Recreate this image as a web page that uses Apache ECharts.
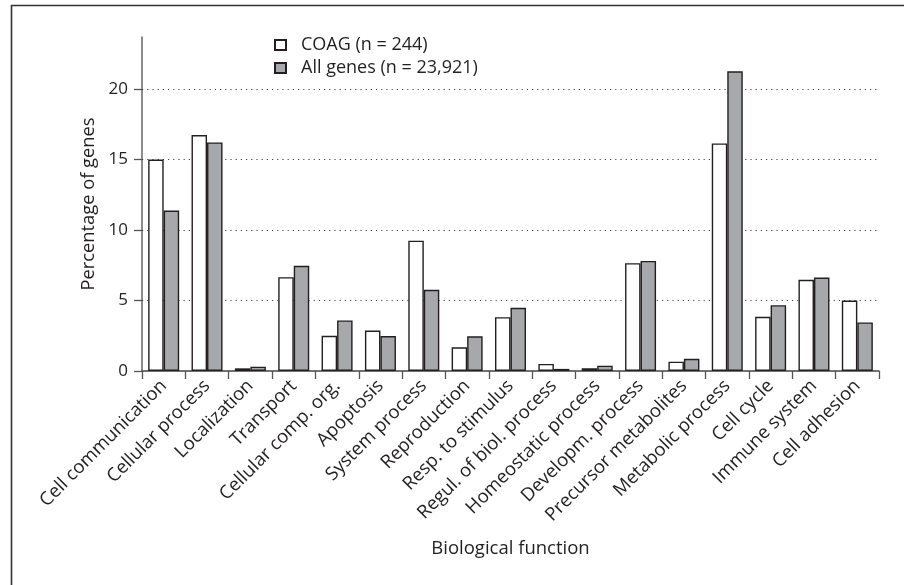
<!DOCTYPE html>
<html>
<head>
<meta charset="utf-8">
<script src="https://cdn.jsdelivr.net/npm/echarts@6/dist/echarts.min.js"></script>
<style>html,body{margin:0;padding:0;background:#fff}#c{width:904px;height:585px}</style>
</head>
<body>
<div id="c"></div>
<script>
const categories = ["Cell communication","Cellular process","Localization","Transport","Cellular comp. org.","Apoptosis","System process","Reproduction","Resp. to stimulus","Regul. of biol. process","Homeostatic process","Developm. process","Precursor metabolites","Metabolic process","Cell cycle","Immune system","Cell adhesion"];
const coag = [15.0,16.74,0.19,6.66,2.5,2.87,9.25,1.68,3.82,0.5,0.2,7.65,0.66,16.15,3.85,6.47,5.0];
const allGenes = [11.38,16.22,0.31,7.46,3.59,2.48,5.76,2.46,4.48,0.15,0.38,7.81,0.87,21.27,4.67,6.63,3.45];
const yTicks = [0,5,10,15,20];
const seriesNames = ["COAG (n = 244)","All genes (n = 23,921)"];

const FONT = "Open Sans";
const TXT = "#231f20";
const chart = echarts.init(document.getElementById('c'), null, {renderer:'canvas'});
chart.setOption({
  animation:false,
  backgroundColor:'#fff',
  textStyle:{fontFamily:FONT,color:TXT},
  graphic:[
    {type:'line',shape:{x1:11,y1:5.5,x2:904,y2:5.5},style:{stroke:'#333',lineWidth:1.6},z:100},
    {type:'line',shape:{x1:11.5,y1:5,x2:11.5,y2:585},style:{stroke:'#333',lineWidth:1.6},z:100}
  ],
  legend:{
    orient:'vertical',left:269,top:36,itemWidth:11,itemHeight:10,itemGap:5,
    icon:'rect',padding:[0,5,0,5],
    textStyle:{fontFamily:FONT,fontSize:18,lineHeight:14,color:TXT,padding:[0,0,0,10]},
    data:seriesNames
  },
  grid:{left:142,right:25,top:37,bottom:214,containLabel:false},
  xAxis:{
    type:'category',data:categories,boundaryGap:true,
    axisLine:{lineStyle:{color:'#444',width:1.5}},
    axisTick:{show:true,length:8,inside:false,alignWithLabel:false,lineStyle:{color:'#555',width:1.3}},
    axisLabel:{rotate:45,interval:0,fontSize:18.5,color:TXT,fontFamily:FONT,margin:12},
    name:'Biological function',nameLocation:'middle',nameGap:168,
    nameTextStyle:{fontSize:18.5,color:TXT,fontFamily:FONT}
  },
  yAxis:{
    type:'value',min:0,max:23.7,interval:5,
    axisLine:{show:true,lineStyle:{color:'#666',width:1.5}},
    axisTick:{show:true,length:8,customValues:yTicks,lineStyle:{color:'#555',width:1.3}},
    axisLabel:{fontSize:17,color:TXT,fontFamily:FONT,margin:14,customValues:yTicks},
    splitLine:{show:false},
    name:'Percentage of genes',nameLocation:'middle',nameGap:44,nameRotate:90,
    nameTextStyle:{fontSize:18.3,color:TXT,fontFamily:FONT}
  },
  series:[
    {name:seriesNames[0],type:'bar',data:coag,barWidth:15.5,barGap:'0%',
     itemStyle:{color:'#ffffff',borderColor:'#231f20',borderWidth:1.4},
     markLine:{silent:true,symbol:'none',z:1,label:{show:false},
       lineStyle:{color:'#444',type:[1.2,4],width:1.2},
       data:yTicks.slice(1).map(v=>({yAxis:v}))}},
    {name:seriesNames[1],type:'bar',data:allGenes,barWidth:15.5,barGap:'0%',
     itemStyle:{color:'#a7a8ab',borderColor:'#231f20',borderWidth:1.4}}
  ]
});
</script>
</body>
</html>
